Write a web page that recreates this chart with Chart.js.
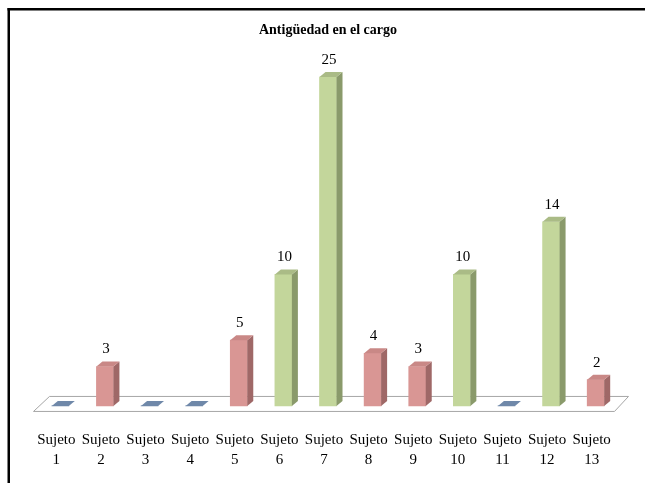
<!DOCTYPE html>
<html>
<head>
<meta charset="utf-8">
<script src="https://cdn.jsdelivr.net/npm/chart.js@4.4.0/dist/chart.umd.min.js"></script>
<style>
  html, body { margin: 0; padding: 0; background: #ffffff; overflow: hidden; }
  #wrap { width: 645px; height: 483px; position: relative; }
</style>
</head>
<body>
<div id="wrap"><canvas id="c" width="645" height="483"></canvas></div>
<script>
// Years in the current position, one value per person
const categories = [
  ['Sujeto', '1'], ['Sujeto', '2'], ['Sujeto', '3'], ['Sujeto', '4'],
  ['Sujeto', '5'], ['Sujeto', '6'], ['Sujeto', '7'], ['Sujeto', '8'],
  ['Sujeto', '9'], ['Sujeto', '10'], ['Sujeto', '11'], ['Sujeto', '12'],
  ['Sujeto', '13']
];
const years = [0, 3, 0, 0, 5, 10, 25, 4, 3, 10, 0, 14, 2];
const chartTitle = 'Antigüedad en el cargo';

// Face colours (front / side / top) for the three bar groups
const PALETTES = {
  none:  { front: '#6f88a9', side: '#4f6685', top: '#6f88a9' },
  short: { front: '#d99694', side: '#9f6867', top: '#c98886' },
  long:  { front: '#c3d69b', side: '#8a9a6b', top: '#aabb86' }
};
function paletteFor(v) {
  if (v === 0) return PALETTES.none;
  return v < 10 ? PALETTES.short : PALETTES.long;
}

const DX = 6, DY = 5;   // extrusion of the bars
const SERIF = '"Liberation Serif", "Times New Roman", serif';

function poly(ctx, pts, fill, stroke) {
  ctx.beginPath();
  ctx.moveTo(pts[0][0], pts[0][1]);
  for (let i = 1; i < pts.length; i++) ctx.lineTo(pts[i][0], pts[i][1]);
  ctx.closePath();
  if (fill) { ctx.fillStyle = fill; ctx.fill(); }
  if (stroke) { ctx.strokeStyle = stroke; ctx.lineWidth = 1; ctx.stroke(); }
}

// White page with the frame on the left and top edges
const framePlugin = {
  id: 'frame',
  beforeDraw(chart) {
    const ctx = chart.ctx;
    ctx.save();
    ctx.fillStyle = '#ffffff';
    ctx.fillRect(0, 0, chart.width, chart.height);
    ctx.fillStyle = '#000000';
    ctx.fillRect(7.5, 8, 2.5, chart.height - 8);
    ctx.fillRect(7.5, 8, chart.width - 7.5, 2.5);
    ctx.restore();
  }
};

// Floor plane the bars stand on
const floorPlugin = {
  id: 'floor',
  beforeDatasetsDraw(chart) {
    const ctx = chart.ctx;
    const { left, right } = chart.chartArea;
    const b = chart.scales.y.getPixelForValue(0);
    ctx.save();
    poly(ctx, [
      [left - 4.5, b + 5.5], [right - 3.5, b + 5.5],
      [right + 10.5, b - 9.5], [left + 11.5, b - 9.5]
    ], '#ffffff', '#a6a6a6');
    ctx.restore();
  }
};

// Side and top faces plus value labels
const bars3dPlugin = {
  id: 'bars3d',
  afterDatasetsDraw(chart) {
    const ctx = chart.ctx;
    const meta = chart.getDatasetMeta(0);
    ctx.save();
    meta.data.forEach((bar, i) => {
      const { x, y, base, width } = bar.getProps(['x', 'y', 'base', 'width'], true);
      const x0 = x - width / 2, x1 = x + width / 2;
      const pal = paletteFor(years[i]);
      if (base - y > 0.5) {
        poly(ctx, [[x1, y], [x1 + DX, y - DY], [x1 + DX, base - DY], [x1, base]], pal.side);
      }
      poly(ctx, [[x0, y], [x1, y], [x1 + DX, y - DY], [x0 + DX, y - DY]], pal.top);
      if (years[i] !== 0) {
        ctx.fillStyle = '#000000';
        ctx.font = '15px ' + SERIF;
        ctx.textAlign = 'center';
        ctx.textBaseline = 'middle';
        ctx.fillText(String(years[i]), x + 1, y - DY - 12);
      }
    });
    ctx.restore();
  }
};

new Chart(document.getElementById('c'), {
  type: 'bar',
  data: {
    labels: categories,
    datasets: [{
      data: years,
      backgroundColor: years.map(v => paletteFor(v).front),
      borderWidth: 0,
      barThickness: 17
    }]
  },
  options: {
    responsive: false,
    animation: false,
    devicePixelRatio: 1,
    layout: { padding: { left: 38, right: 27, top: 8, bottom: 10 } },
    plugins: {
      legend: { display: false },
      tooltip: { enabled: false },
      title: {
        display: true,
        text: chartTitle,
        color: '#000000',
        font: { family: SERIF, size: 14, weight: 'bold' },
        padding: { top: 14, bottom: 12 }
      }
    },
    scales: {
      x: {
        grid: { display: false, drawTicks: false },
        border: { display: false },
        ticks: {
          color: '#000000',
          font: { family: SERIF, size: 15, lineHeight: 1.3334 },
          padding: 3,
          labelOffset: -4,
          maxRotation: 0,
          autoSkip: false
        }
      },
      y: {
        display: false,
        min: -1.6,
        max: 27
      }
    }
  },
  plugins: [framePlugin, floorPlugin, bars3dPlugin]
});
</script>
</body>
</html>
